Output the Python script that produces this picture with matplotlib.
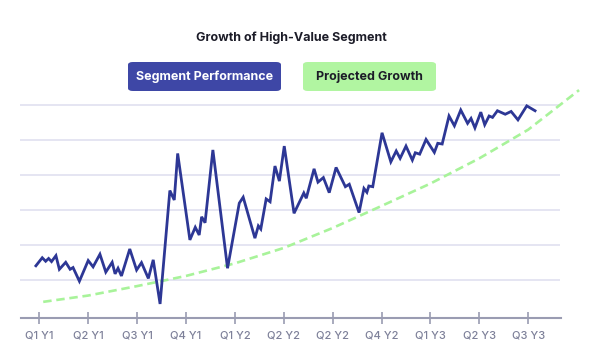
import matplotlib
matplotlib.use("Agg")
import matplotlib.pyplot as plt
from matplotlib.patches import FancyBboxPatch

plt.rcParams['font.family'] = ['Inter', 'DejaVu Sans']

# quarter labels on the x axis
quarters = ["Q1 Y1", "Q2 Y1", "Q3 Y1", "Q4 Y1", "Q1 Y2", "Q2 Y2",
            "Q2 Y2", "Q4 Y2", "Q1 Y3", "Q2 Y3", "Q3 Y3"]

# segment performance (position in quarters, value)
perf_t = [-0.07, 0.06, 0.13, 0.19, 0.25, 0.34, 0.41, 0.54, 0.63, 0.69,
          0.82, 1.00, 1.10, 1.24, 1.36, 1.49, 1.55, 1.61, 1.68, 1.85,
          1.99, 2.09, 2.23, 2.33, 2.47, 2.67, 2.76, 2.83, 3.08, 3.19,
          3.27, 3.32, 3.39, 3.55, 3.85, 4.09, 4.17, 4.41, 4.48, 4.53,
          4.64, 4.72, 4.82, 4.91, 5.01, 5.21, 5.41, 5.46, 5.62, 5.70,
          5.81, 5.93, 6.07, 6.26, 6.34, 6.54, 6.64, 6.70, 6.74, 6.82,
          7.01, 7.19, 7.30, 7.38, 7.50, 7.63, 7.69, 7.78, 7.91, 8.08,
          8.15, 8.24, 8.38, 8.49, 8.62, 8.76, 8.83, 8.91, 9.03, 9.11,
          9.20, 9.27, 9.37, 9.53, 9.65, 9.79, 9.97, 10.14]
perf_v = [14.2, 16.5, 15.5, 16.3, 15.4, 17.1, 13.2, 15.2, 13.2, 13.7,
          9.8, 15.7, 13.9, 17.5, 12.4, 15.2, 11.9, 13.5, 11.3, 19.0,
          13.0, 15.1, 10.6, 15.9, 3.3, 35.7, 33.0, 46.3, 21.6, 25.2,
          23.0, 28.2, 26.5, 47.3, 13.5, 32.1, 33.8, 22.1, 25.6, 24.7,
          33.3, 32.5, 42.7, 38.4, 48.4, 29.2, 35.0, 33.5, 41.9, 38.1,
          39.4, 35.1, 42.3, 36.8, 37.5, 29.4, 36.3, 35.2, 37.0, 36.8,
          52.2, 43.9, 47.0, 44.9, 48.4, 44.4, 46.5, 46.1, 50.3, 46.6,
          49.2, 49.0, 57.0, 54.2, 58.7, 54.9, 56.3, 53.6, 58.1, 54.5,
          57.0, 56.6, 58.5, 57.5, 58.3, 55.9, 59.9, 58.5]

# projected growth curve
proj_t = [0.08, 1, 2, 3, 4, 5, 6, 7, 8, 9, 10, 11.04]
proj_v = [3.9, 5.7, 8.4, 11.3, 14.9, 19.3, 25.0, 31.3, 37.7, 44.9, 53.1, 64.4]

blue = "#2d3795"
green = "#a8f39a"

fig = plt.figure(figsize=(6, 3.54), dpi=100)
ax = fig.add_axes([20 / 600, 1 - 317.7 / 354, 540 / 600, (317.7 - 88) / 354])

ax.plot(perf_t, perf_v, color=blue, lw=2.0, solid_joinstyle='miter', zorder=3)
ax.plot(proj_t, proj_v, color=green, lw=1.9, dashes=(3.2, 1.8),
        clip_on=False, zorder=2)

ax.set_xlim(-0.395, 10.65)
ax.set_ylim(-0.63, 65)
ax.set_yticks([10, 20, 30, 40, 50, 60])
ax.set_yticklabels([])
ax.tick_params(axis='y', length=0)
ax.grid(axis='y', color="#e3e3f1", lw=1.3)
ax.set_axisbelow(True)

ax.set_xticks(range(len(quarters)))
ax.set_xticklabels(quarters, fontsize=8, color="#7d8099", fontweight='medium')
ax.tick_params(axis='x', direction='inout', length=9, width=1.2,
               color="#9a9cb2", pad=5)

for s in ['top', 'right', 'left']:
    ax.spines[s].set_visible(False)
ax.spines['bottom'].set_color("#9a9cb2")
ax.spines['bottom'].set_linewidth(1.5)
ax.spines['bottom'].set_bounds(-0.38, 10.67)

fig.text(291 / 600, 1 - 38 / 354, "Growth of High-Value Segment",
         ha='center', va='center', fontsize=9, fontweight='bold', color="#1c1c28")

# legend boxes
W, H = 600, 354
for x0, x1, fc, tc, label in [(128, 281, "#3e47a6", "white", "Segment Performance"),
                              (303, 436, "#b1f5a1", "#1c1c28", "Projected Growth")]:
    box = FancyBboxPatch((x0 / W, 1 - 91 / H), (x1 - x0) / W, 29 / H,
                         boxstyle="round,pad=0,rounding_size=0.008",
                         transform=fig.transFigure, fc=fc, ec='none')
    fig.patches.append(box)
    fig.text((x0 + x1) / 2 / W, 1 - 76.5 / H, label, ha='center', va='center',
             fontsize=9, fontweight='bold', color=tc)

fig.savefig("out.png", dpi=100)
